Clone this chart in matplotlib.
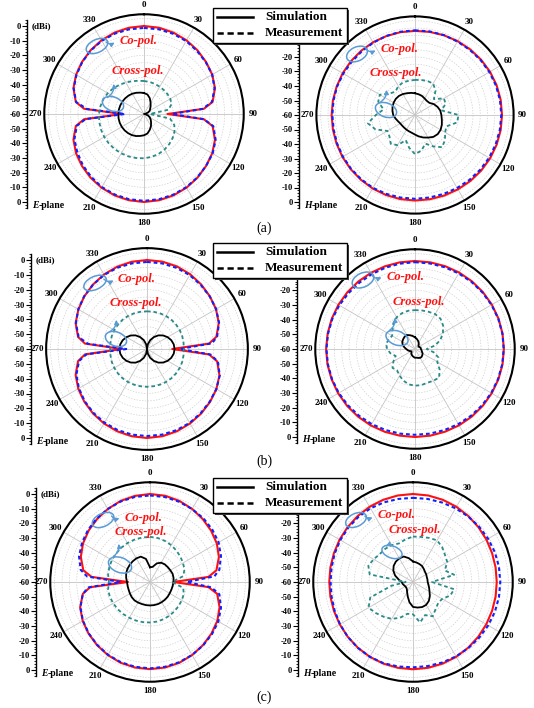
import numpy as np
import matplotlib
matplotlib.use('Agg')
import matplotlib.pyplot as plt
from matplotlib.patches import Ellipse, Rectangle, FancyArrowPatch

plt.rcParams['font.family'] = 'Liberation Serif'
plt.rcParams['font.weight'] = 'bold'

W, H = 534, 708

# sampling angles (deg)
ANG10 = list(range(0, 360, 10))
ANG_E = [0, 10, 20, 30, 40, 50, 60, 70, 80, 85, 90, 95, 100, 110, 120, 130, 140, 150, 160, 170,
         180, 190, 200, 210, 220, 230, 240, 250, 260, 265, 270, 275, 280, 290, 300, 310, 320, 330,
         340, 350]
THETA_TICKS = list(range(0, 360, 30))
DB_TICKS = list(range(-60, 61, 10))

# ---- (a) E-plane, dBi ----
E_A_CO_SIM = [0, -0.3, -1, -2, -3.3, -4.8, -6.3, -8.5, -12.5, -19, -44, -19, -12.5, -8.5, -6.3, -4.8,
              -3.3, -2, -1, -0.3, 0, -0.3, -1, -2, -3.3, -4.8, -6.5, -8.8, -12.8, -19, -45, -19,
              -12.8, -8.8, -6.5, -4.8, -3.3, -2, -1, -0.3]
E_A_CO_MEAS = [-1.3, -1.4, -1.8, -2.6, -3.8, -5.0, -6.3, -8.8, -13, -20, -41, -19, -12, -8, -6, -4.8,
               -3.5, -2.4, -1.5, -1, -0.8, -1, -1.6, -2.5, -4, -5.6, -7.5, -9.5, -13.5, -20, -47, -21,
               -13, -9, -6.8, -5, -3.5, -2.4, -1.7, -1.4]
E_A_X_SIM = [-45.7, -46.5, -48.5, -51, -53, -54.5, -55.5, -57, -59, -60, -59, -57, -55.5, -54, -52.5,
             -50.5, -48.5, -46.5, -45.5, -44.8, -44, -43.4, -43, -42.7, -42.5, -42.4, -42.4, -42.5,
             -42.6, -42.8, -43, -43.3, -43.6, -44, -44.6, -45.2]
E_A_X_MEAS = [-37.5, -37.8, -38.2, -38.5, -38.8, -39, -39.3, -40, -43, -56, -42, -38, -36, -34.5, -33.2,
              -32, -31, -30.3, -29.8, -29.5, -29.2, -29, -28.8, -28.7, -28.7, -28.8, -29, -29.3, -29.8,
              -30.5, -31.5, -32.7, -34, -35.2, -36.2, -37]

# ---- (a) H-plane ----
H_A_CO_SIM = [-2, -1.8, -1.5, -1.2, -0.9, -0.6, -0.3, -0.1, 0, 0, 0, -0.1, -0.2, -0.4, -0.6, -0.8, -0.9,
              -1, -1, -1.1, -1.3, -1.5, -1.8, -2, -2.2, -2.4, -2.5, -2.5, -2.5, -2.5, -2.4, -2.3, -2.2,
              -2.1, -2.1, -2]
H_A_CO_MEAS = [-1.6, -1.5, -1.4, -1.5, -1.3, -1, -0.8, -0.6, -0.5, -0.5, -0.6, -0.8, -1, -1.3, -1.6, -1.9,
               -2.1, -2.2, -2.2, -2.2, -2.1, -2, -2.2, -2.4, -2.6, -2.8, -3, -3, -2.9, -2.8, -2.9, -3,
               -2.8, -2.4, -2, -1.7]
H_A_X_SIM = [-45, -45.5, -46, -46.8, -47.3, -47, -45, -43.5, -42.3, -41.8, -41.2, -40.3, -39.6, -39.5,
             -40.3, -42, -43.5, -45, -46.5, -47.5, -48, -48.3, -48.5, -48.5, -48.3, -47.5, -46.3, -45,
             -44.2, -43.5, -43, -42.7, -42.8, -43.3, -44, -44.5]
H_A_X_MEAS = [-35.8, -35.5, -35, -35, -38, -43, -37, -37.5, -41.5, -30, -30.5, -37, -36, -33, -31, -35,
              -39, -35, -33, -37, -41.5, -36, -34, -37, -38, -31, -27, -33, -38, -33, -32, -37, -39,
              -37, -36, -36]

# ---- (b) E-plane ----
E_B_CO_SIM = [0, -0.2, -0.8, -1.8, -3.2, -4.7, -6.3, -8.5, -12.5, -18, -43, -18, -12, -8, -6, -4.5,
              -3.2, -2, -1, -0.3, 0, -0.3, -1, -2, -3.3, -4.8, -6.5, -8.8, -12.8, -18, -43, -18, -12.8,
              -8.8, -6.6, -4.8, -3.3, -2, -1, -0.3]
E_B_CO_MEAS = [-1.3, -1.4, -1.8, -2.5, -3.6, -4.8, -6.2, -8.3, -12, -16, -38, -17, -11.5, -7.8, -6, -4.8,
               -3.6, -2.5, -1.8, -1.4, -1.3, -1.4, -1.9, -2.7, -3.8, -5.2, -7, -9.3, -13.5, -19, -46,
               -20, -13.2, -9, -6.5, -4.7, -3.4, -2.3, -1.7, -1.4]
E_B_X_SIM = [-60, -56.8, -53.6, -50.7, -48, -45.8, -44, -42.6, -41.7, -41.4, -41.7, -42.6, -44, -45.8,
             -48, -50.7, -53.6, -56.8, -60, -56.8, -53.6, -50.7, -48, -45.8, -44, -42.6, -41.7, -41.4,
             -41.7, -42.6, -44, -45.8, -48, -50.7, -53.6, -56.8]
E_B_X_MEAS = [-34.6, -34.5, -34.4, -34.3, -34.3, -34.4, -34.5, -34.7, -35, -35.2, -35, -34.7, -34.5,
              -34.4, -34.3, -34.3, -34.4, -34.5, -34.5, -34.5, -34.4, -34.3, -34.3, -34.4, -34.5, -34.7,
              -35, -35.2, -35, -34.7, -34.5, -34.4, -34.3, -34.3, -34.4, -34.5]

# ---- (b) H-plane ----
H_B_CO_SIM = [0, 0, 0.1, 0.2, 0.3, 0.4, 0.5, 0.6, 0.6, 0.6, 0.6, 0.5, 0.4, 0.3, 0.2, 0.1, 0, 0, 0, 0,
              0.1, 0.2, 0.3, 0.4, 0.5, 0.5, 0.6, 0.6, 0.5, 0.4, 0.3, 0.2, 0.1, 0, 0, 0]
H_B_CO_MEAS = [-0.8, -0.8, -0.7, -0.5, -0.2, 0, 0.2, 0.4, 0.5, 0.5, 0.4, 0.2, 0, -0.3, -0.6, -0.9, -1.2,
               -1.4, -1.5, -1.4, -1.2, -0.9, -0.6, -0.3, 0, 0.2, 0.3, 0.4, 0.2, 0, -0.4, -0.8, -1, -1.1,
               -1, -0.9]
H_B_X_SIM = [-52, -53, -54, -55, -56, -57, -57, -56.5, -56, -56, -55.5, -55, -54, -53.5, -53, -53, -53.5,
             -54, -54, -54.5, -55, -55.5, -56, -57, -57, -56, -55, -54, -52.5, -51, -50, -49.5, -49, -49,
             -50, -51]
H_B_X_MEAS = [-33.5, -33.3, -33, -32.5, -33, -35, -38, -41.5, -46, -52, -47, -43, -42.5, -38, -34.5, -35,
              -35.5, -35, -35, -35.5, -37, -39, -41, -40, -43, -46, -43, -41, -40, -41, -42, -40, -37,
              -35, -34, -33.5]

# ---- (c) E-plane ----
E_C_CO_SIM = [0, -0.3, -1.2, -2.5, -4, -5.6, -7.4, -10, -14, -20, -44, -20, -13.5, -9.5, -7, -5.3, -3.8,
              -2.5, -1.4, -0.8, -0.6, -0.8, -1.4, -2.5, -3.8, -5.3, -7, -9.3, -13.5, -19, -45, -20, -13.8,
              -9.8, -7.3, -5.4, -3.9, -2.5, -1.2, -0.4]
E_C_CO_MEAS = [-1, -1.2, -1.8, -2.6, -3.3, -4.5, -6, -8.5, -12, -16, -35, -18, -12, -8.5, -6.2, -4.8,
               -3.6, -2.6, -1.8, -1.3, -1.1, -1.3, -1.8, -2.7, -4, -5.5, -7.2, -9.5, -13.5, -18, -40,
               -17, -12, -8.5, -6.5, -4.8, -3.5, -2.5, -1.6, -1.1]
E_C_X_SIM = [-50, -49.5, -46.5, -44.8, -44.3, -44.2, -44, -43.6, -43.7, -44, -44.3, -44.5, -44.5, -44.3,
             -44.2, -44.1, -44, -44, -44, -44, -44, -43.8, -43.6, -43.8, -44.2, -44.5, -44.5, -44.3,
             -43.5, -42.7, -42.2, -41.9, -41.6, -41.4, -41.6, -44]
E_C_X_MEAS = [-29.2, -29.5, -30.2, -31, -32, -33, -34, -35, -37, -45, -37, -35.5, -35, -34.5, -34, -33.5,
              -33, -32.6, -32.4, -32.2, -32, -31.8, -31.5, -31.2, -31, -30.8, -31, -32, -31, -30.5, -30,
              -29.8, -29.5, -29.3, -29.2, -29.2]

# ---- (c) H-plane ----
H_C_CO_SIM = [0, -0.1, -0.4, -0.8, -1.3, -1.8, -2.2, -2.6, -2.8, -2.9, -2.8, -2.6, -2.3, -1.9, -1.5, -1.1,
              -0.8, -0.6, -0.5, -0.6, -0.8, -1.1, -1.5, -1.9, -2.3, -2.6, -2.8, -2.9, -2.8, -2.6, -2.2,
              -1.8, -1.3, -0.8, -0.4, -0.1]
H_C_CO_MEAS = [-2.6, -2.5, -2.3, -2, -1.6, -1.2, -0.9, -0.6, -0.5, -0.5, -0.5, -0.6, -0.8, -1, -1.2, -1.4,
               -1.6, -1.8, -1.8, -1.5, -1.1, -1.1, -1.4, -1.9, -2.5, -3.1, -3.6, -3.8, -3.6, -3.2, -2.8,
               -2.4, -2.1, -2, -2.2, -2.5]
H_C_X_SIM = [-46, -46.5, -47, -47.5, -48.5, -49.3, -49.6, -50, -50, -50, -49.3, -48.3, -47, -45, -43.2,
             -42, -41.8, -42.3, -43, -46, -49.5, -52, -53.5, -54, -54, -53.5, -52.8, -52.3, -50, -47,
             -44.5, -42.8, -41.8, -41.4, -41.5, -43.5]
H_C_X_MEAS = [-29, -28.8, -28, -27.2, -29, -31.5, -33, -37, -31.5, -47, -31.5, -33, -37, -37.6, -36, -33,
              -36, -32, -38, -38, -34, -31, -29, -27, -25, -29, -45, -55, -30, -27.6, -29, -30.4, -30.5,
              -31, -32, -30.5]

RED = '#ff1010'
BLUE = '#1020ff'
TEAL = '#2a8a8a'
ANNOT_BLUE = '#5b9bd5'

fig = plt.figure(figsize=(W / 100, H / 100), dpi=100)
fig.patch.set_facecolor('white')


def closed(ang, vals):
    th = np.deg2rad(np.append(ang, ang[0]))
    return th, np.append(vals, vals[0])


def polar_panel(cx, cy, r0, co_ang, co_sim, co_meas, x_sim, x_meas):
    R = r0 * 68 / 60
    ax = fig.add_axes([(cx - R) / W, 1 - (cy + R) / H, 2 * R / W, 2 * R / H], projection='polar')
    ax.set_theta_zero_location('N')
    ax.set_theta_direction(-1)
    ax.set_ylim(-60, 8)
    ax.set_yticks(np.arange(-55, 6, 5))
    ax.set_yticklabels([])
    ax.set_xticks(np.deg2rad(THETA_TICKS))
    ax.set_xticklabels([str(t) for t in THETA_TICKS], fontsize=6.5, fontweight='bold')
    ax.set_xticks(np.deg2rad(ANG10), minor=True)
    ax.tick_params(axis='x', which='both', direction='out', length=2, width=0.8, pad=-2.5)
    ax.xaxis.grid(True, which='major', color='#c4c4c4', lw=0.6, ls='-')
    ax.xaxis.grid(False, which='minor')
    ax.yaxis.grid(True, color='#cfcfcf', lw=0.5, ls=(0, (2, 2)))
    ax.spines['polar'].set_linewidth(1.5)
    ax.plot(*closed(co_ang, co_sim), color=RED, lw=1.5, zorder=3)
    ax.plot(*closed(co_ang, co_meas), color=BLUE, lw=1.5, ls=(0, (1.8, 1.4)), zorder=4)
    ax.plot(*closed(ANG10, x_sim), color='black', lw=1.3, zorder=3)
    ax.plot(*closed(ANG10, x_meas), color=TEAL, lw=1.3, ls=(0, (2, 1.6)), zorder=4)
    return ax


def db_scale(x, cy, r0, hide_top):
    R = r0 * 68 / 60
    ax = fig.add_axes([x / W, 1 - (cy + R) / H, 0.01, 2 * R / H])
    ax.patch.set_visible(False)
    ax.set_ylim(-68, 68)
    ax.set_xticks([])
    for s in ('top', 'right', 'bottom'):
        ax.spines[s].set_visible(False)
    ax.spines['left'].set_bounds(-64, 64)
    ax.spines['left'].set_linewidth(1)
    ax.set_yticks(DB_TICKS)
    # the top two labels of the H-plane scales sit under the legend box
    labels = [str(abs(v) - 60) if not (hide_top and v >= 50) else '' for v in DB_TICKS]
    ax.set_yticklabels(labels, fontsize=6, fontweight='bold')
    ax.set_yticks(np.arange(-64, 65, 2), minor=True)
    ax.tick_params(axis='y', which='major', length=3.5, width=0.8, pad=1)
    ax.tick_params(axis='y', which='minor', length=1.8, width=0.6)
    return ax


# panel layout in pixels: centre, 0-dBi radius, scale-bar x
panels = [
    dict(cx=144, cy=114, r0=88, sx=27, plane='E', data=(ANG_E, E_A_CO_SIM, E_A_CO_MEAS, E_A_X_SIM, E_A_X_MEAS)),
    dict(cx=415, cy=115, r0=87, sx=299, plane='H', data=(ANG10, H_A_CO_SIM, H_A_CO_MEAS, H_A_X_SIM, H_A_X_MEAS)),
    dict(cx=147, cy=349, r0=89, sx=31, plane='E', data=(ANG_E, E_B_CO_SIM, E_B_CO_MEAS, E_B_X_SIM, E_B_X_MEAS)),
    dict(cx=415, cy=349, r0=88, sx=297, plane='H', data=(ANG10, H_B_CO_SIM, H_B_CO_MEAS, H_B_X_SIM, H_B_X_MEAS)),
    dict(cx=150, cy=582, r0=88, sx=36, plane='E', data=(ANG_E, E_C_CO_SIM, E_C_CO_MEAS, E_C_X_SIM, E_C_X_MEAS)),
    dict(cx=413, cy=582, r0=88, sx=298, plane='H', data=(ANG10, H_C_CO_SIM, H_C_CO_MEAS, H_C_X_SIM, H_C_X_MEAS)),
]

for p in panels:
    polar_panel(p['cx'], p['cy'], p['r0'], *p['data'])
    db_scale(p['sx'], p['cy'], p['r0'], p['plane'] == 'H')

# overlay in pixel coordinates for labels, callouts and legends
ov = fig.add_axes([0, 0, 1, 1], zorder=20)
ov.set_xlim(0, W)
ov.set_ylim(H, 0)
ov.axis('off')

for p in panels:
    top = p['cy'] - p['r0']
    bot = p['cy'] + p['r0']
    if p['plane'] == 'E':
        ov.text(p['sx'] + 5, top, '(dBi)', fontsize=6.5, va='center', ha='left')
    ov.text(p['sx'] + 5, bot + 3, p['plane'], fontsize=7, va='center', ha='left', style='italic')
    ov.text(p['sx'] + (12 if p['plane'] == 'E' else 13), bot + 3, '-plane', fontsize=7,
            va='center', ha='left')

# callouts: ellipse (x, y, w, h, angle), arrow start/end, text positions
callouts = [
    ((97, 46, 23, 13, -25), (104, 40), (117, 41), (120, 41), (113, 104, 22, 14, 20), (105, 99), (113, 81), (112, 71)),
    ((357, 54, 22, 14, -25), (364, 47), (378, 49), (381, 49), (386, 110, 22, 14, 20), (377, 104), (386, 87), (370, 73)),
    ((95, 283, 24, 13, -25), (102, 277), (116, 279), (118, 279), (116, 339, 22, 14, 20), (107, 333), (116, 317), (110, 303)),
    ((363, 280, 23, 14, -25), (370, 273), (384, 276), (387, 277), (397, 338, 23, 14, 20), (387, 332), (394, 315), (393, 302)),
    ((103, 520, 23, 13, -25), (110, 514), (122, 517), (125, 518), (120, 565, 24, 15, 20), (111, 558), (118, 541), (115, 532)),
    ((356, 520, 22, 13, -25), (363, 514), (375, 516), (378, 515), (392, 552, 21, 12, 20), (384, 547), (390, 538), (389, 530)),
]

for co_e, co_a, co_b, co_t, x_e, x_a, x_b, x_t in callouts:
    for e in (co_e, x_e):
        ov.add_patch(Ellipse(e[:2], e[2], e[3], angle=e[4], fill=False, ec=ANNOT_BLUE, lw=1.1))
    ov.add_patch(FancyArrowPatch(co_a, co_b, arrowstyle='-|>', mutation_scale=6, color=ANNOT_BLUE,
                                 lw=1, connectionstyle='arc3,rad=0.5'))
    ov.add_patch(FancyArrowPatch(x_a, x_b, arrowstyle='-|>', mutation_scale=6, color=ANNOT_BLUE,
                                 lw=1, connectionstyle='arc3,rad=0.4'))
    ov.text(co_t[0], co_t[1], 'Co-pol.', color=RED, fontsize=9, style='italic', va='center', ha='left')
    ov.text(x_t[0], x_t[1], 'Cross-pol.', color=RED, fontsize=9, style='italic', va='center', ha='left')

# legend boxes
for y0 in (8, 243, 478):
    x0 = 213
    ov.add_patch(Rectangle((x0 + 2, y0 + 2), 134, 35, fc='#404040', ec='none', zorder=5))
    ov.add_patch(Rectangle((x0, y0), 134, 35, fc='white', ec='black', lw=1, zorder=6))
    ov.plot([x0 + 4, x0 + 40], [y0 + 9, y0 + 9], color='black', lw=1.8, zorder=7)
    ov.plot([x0 + 4, x0 + 40], [y0 + 25, y0 + 25], color='black', lw=1.8, ls=(0, (2.5, 1.5)), zorder=7)
    ov.text(x0 + 52, y0 + 9, 'Simulation', fontsize=9.5, va='center', ha='left', zorder=8)
    ov.text(x0 + 52, y0 + 25, 'Measurement', fontsize=9.5, va='center', ha='left', zorder=8)

for lab, y in (('(a)', 228), ('(b)', 461), ('(c)', 697)):
    ov.text(264, y, lab, fontsize=10, fontweight='normal', ha='center', va='center')

fig.savefig('out.png', dpi=100, facecolor='white')
